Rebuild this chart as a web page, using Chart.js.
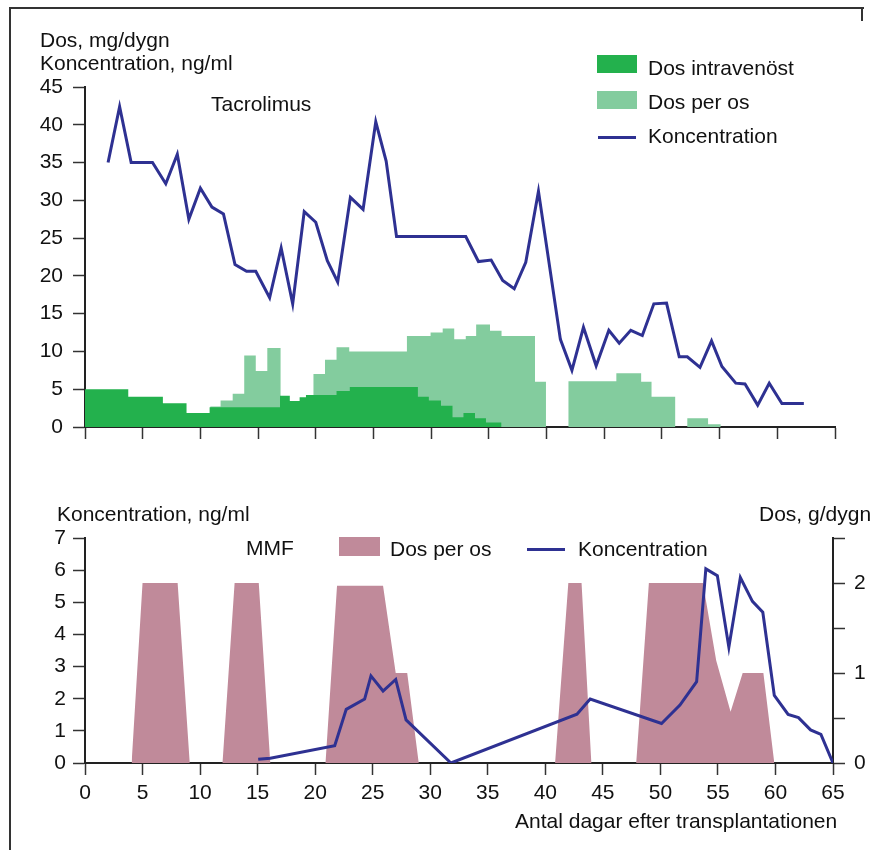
<!DOCTYPE html>
<html>
<head>
<meta charset="utf-8">
<script src="https://cdn.jsdelivr.net/npm/chart.js@4/dist/chart.umd.min.js"></script>
<style>
  body { margin: 0; background: #fff; font-family: "Liberation Sans", Arial, sans-serif; }
  #page { position: relative; width: 874px; height: 850px; overflow: hidden; }
  canvas { position: absolute; left: 0; }
  .t { position: absolute; font-size: 21px; line-height: 21px; white-space: nowrap; color: #111; }
  .sw { position: absolute; }
</style>
</head>
<body>
<div id="page">
  <div style="position:absolute;left:9px;top:7px;width:853px;height:845px;border-left:2px solid #333;border-top:2px solid #333"></div>
  <div style="position:absolute;left:861px;top:7px;width:2px;height:14px;background:#333"></div>

  <canvas id="tacChart" width="874" height="450" style="top:0"></canvas>
  <canvas id="mmfChart" width="874" height="370" style="top:480px"></canvas>

  <!-- top chart texts -->
  <div class="t" style="left:40px;top:29px">Dos, mg/dygn</div>
  <div class="t" style="left:40px;top:52px">Koncentration, ng/ml</div>
  <div class="t" style="left:211px;top:93px">Tacrolimus</div>
  <div class="sw" style="left:597px;top:55px;width:40px;height:18px;background:#23b14d"></div>
  <div class="t" style="left:648px;top:57px">Dos intravenöst</div>
  <div class="sw" style="left:597px;top:91px;width:40px;height:18px;background:#83cc9e"></div>
  <div class="t" style="left:648px;top:91px">Dos per os</div>
  <div class="sw" style="left:598px;top:136px;width:38px;height:3px;background:#2e3192"></div>
  <div class="t" style="left:648px;top:125px">Koncentration</div>

  <!-- bottom chart texts -->
  <div class="t" style="left:57px;top:503px">Koncentration, ng/ml</div>
  <div class="t" style="left:246px;top:537px">MMF</div>
  <div class="sw" style="left:339px;top:537px;width:41px;height:19px;background:#c08a9a"></div>
  <div class="t" style="left:390px;top:538px">Dos per os</div>
  <div class="sw" style="left:527px;top:548px;width:38px;height:3px;background:#2e3192"></div>
  <div class="t" style="left:578px;top:538px">Koncentration</div>
  <div class="t" style="left:759px;top:503px">Dos, g/dygn</div>
  <div class="t" style="left:515px;top:810px">Antal dagar efter transplantationen</div>
</div>

<script>
// tick values
const dayTicks = [0, 5, 10, 15, 20, 25, 30, 35, 40, 45, 50, 55, 60, 65];
const tacTicks = [0, 5, 10, 15, 20, 25, 30, 35, 40, 45];
const mmfConcTicks = [0, 1, 2, 3, 4, 5, 6, 7];
const mmfDoseTicks = [0, 0.5, 1, 1.5, 2, 2.5];
const mmfDoseLabels = [0, 1, 2];

// Tacrolimus concentration (ng/ml)
const tacDays = [2, 3, 4, 5.85, 7, 8, 9, 10, 11, 12, 13, 14, 14.8, 16, 17, 18, 19, 20, 21, 21.9,
  23, 24.1, 25.2, 26.1, 27, 33, 34.1, 35.2, 36.2, 37.2, 38.2, 39.3, 41.2, 42.2, 43.2, 44.3, 45.4, 46.3, 47.3, 48.3,
  49.3, 50.4, 51.5, 52.2, 53.3, 54.3, 55.2, 56.4, 57.2, 58.3, 59.3, 60.4, 62.3];
const tacConc = [35, 42.4, 35, 35, 32.2, 36.1, 27.5, 31.6, 29.1, 28.2, 21.5, 20.6, 20.6, 17.1, 23.7, 16.3, 28.5, 27.1, 22.0, 19.2,
  30.4, 28.8, 40.4, 35.2, 25.2, 25.2, 21.9, 22.1, 19.4, 18.3, 21.8, 31.2, 11.6, 7.5, 13.2, 8.1, 12.8, 11.1, 12.8, 12.1,
  16.3, 16.4, 9.3, 9.3, 7.9, 11.4, 8.0, 5.8, 5.7, 2.9, 5.8, 3.1, 3.1];

// Tacrolimus dose intravenous (mg/dygn), step starts
const ivDays = [0, 3.75, 6.75, 8.8, 10.8, 16.9, 17.75, 18.6, 19.15, 21.8, 22.95, 28.85, 29.8, 30.85, 31.85, 32.8, 33.8, 34.75, 36.1];
const ivDoses = [5.0, 4.0, 3.15, 1.85, 2.6, 4.15, 3.45, 3.95, 4.25, 4.75, 5.3, 4.0, 3.5, 2.8, 1.3, 1.85, 1.15, 0.6, 0];

// Tacrolimus dose per os (mg/dygn), step starts
const oralDays = [10.85, 11.75, 12.8, 13.8, 14.8, 15.8, 16.95, 19.8, 20.8, 21.8, 22.9, 27.9, 29.95, 31.0, 32.0, 33.0, 33.9, 35.1, 36.1,
  39.0, 39.95, 41.9, 46.05, 48.2, 49.1, 51.15, 52.2, 54.0, 55.1];
const oralDoses = [2.7, 3.5, 4.4, 9.45, 7.4, 10.45, 0, 7.0, 8.9, 10.55, 10.0, 12.05, 12.5, 13.05, 11.6, 12.05, 13.55, 12.75, 12.05,
  6.0, 0, 6.05, 7.1, 6.0, 4.0, 0, 1.15, 0.35, 0];

// MMF concentration (ng/ml)
const mmfConcDays = [15.05, 16.1, 21.7, 22.7, 24.3, 24.85, 25.9, 27.0, 27.9, 31.8, 42.75, 43.9, 50.1, 51.7, 53.15, 53.95,
  54.95, 55.95, 56.95, 58.0, 58.9, 59.9, 61.1, 62.0, 63.05, 63.95, 65.0];
const mmfConcValues = [0.12, 0.15, 0.54, 1.67, 1.99, 2.71, 2.24, 2.6, 1.34, 0, 1.52, 1.99, 1.23, 1.8, 2.53, 6.04,
  5.83, 3.6, 5.77, 5.03, 4.69, 2.1, 1.51, 1.41, 1.03, 0.89, 0];

// MMF dose per os (g/dygn)
const mmfDoseDays = [4.05, 5.0, 8.05, 9.1, 11.95, 13.0, 15.1, 16.1, 20.9, 21.9, 25.9, 27.0, 28.0, 29.0,
  40.85, 42.0, 43.15, 44.0, 47.9, 49.0, 53.7, 54.85, 56.1, 57.15, 58.95, 59.9];
const mmfDoseValues = [0, 2.0, 2.0, 0, 0, 2.0, 2.0, 0, 0, 1.97, 1.97, 1.0, 1.0, 0,
  0, 2.0, 2.0, 0, 0, 2.0, 2.0, 1.14, 0.57, 1.0, 1.0, 0];

const navy = "#2e3192";

Chart.defaults.font.family = '"Liberation Sans", Arial, sans-serif';
Chart.defaults.font.size = 21;
Chart.defaults.color = "#111";

function pts(xs, ys) {
  return xs.map((x, i) => ({ x: x, y: ys[i] }));
}

function fixedTicks(values) {
  return (scale) => {
    scale.ticks = values.map((v) => ({ value: v }));
  };
}

function axisStyle() {
  return {
    border: { display: true, color: "#222", width: 2 },
    grid: { drawOnChartArea: false, drawTicks: true, tickLength: 12, tickColor: "#333", tickWidth: 1.5 },
  };
}

const tacConfig = {
  type: "line",
  data: {
    datasets: [
      {
        label: "Koncentration",
        data: pts(tacDays, tacConc),
        borderColor: navy,
        borderWidth: 3,
        borderJoinStyle: "miter",
        pointRadius: 0,
        fill: false,
        order: 0,
      },
      {
        label: "Dos intravenöst",
        data: pts(ivDays, ivDoses),
        stepped: true,
        borderWidth: 0,
        pointRadius: 0,
        backgroundColor: "#23b14d",
        fill: "origin",
        order: 1,
      },
      {
        label: "Dos per os",
        data: pts(oralDays, oralDoses),
        stepped: true,
        borderWidth: 0,
        pointRadius: 0,
        backgroundColor: "#83cc9e",
        fill: "origin",
        order: 2,
      },
    ],
  },
  options: {
    responsive: false,
    animation: false,
    devicePixelRatio: 1,
    layout: { padding: { top: 87, right: 39, bottom: 0, left: 0 } },
    plugins: { legend: { display: false }, tooltip: { enabled: false } },
    scales: {
      x: {
        type: "linear",
        min: 0,
        max: 65,
        ...axisStyle(),
        ticks: { callback: () => "" },
        afterBuildTicks: fixedTicks(dayTicks),
        afterFit: (s) => { s.height = 23; },
      },
      y: {
        min: 0,
        max: 45,
        ...axisStyle(),
        ticks: { padding: 10 },
        afterBuildTicks: fixedTicks(tacTicks),
        afterFit: (s) => { s.width = 85; },
      },
    },
  },
};

const mmfConfig = {
  type: "line",
  data: {
    datasets: [
      {
        label: "Koncentration",
        data: pts(mmfConcDays, mmfConcValues),
        yAxisID: "y",
        borderColor: navy,
        borderWidth: 3,
        borderJoinStyle: "miter",
        pointRadius: 0,
        fill: false,
        order: 0,
      },
      {
        label: "Dos per os",
        data: pts(mmfDoseDays, mmfDoseValues),
        yAxisID: "y2",
        borderWidth: 0,
        pointRadius: 0,
        backgroundColor: "#c08a9a",
        fill: "origin",
        order: 1,
      },
    ],
  },
  options: {
    responsive: false,
    animation: false,
    devicePixelRatio: 1,
    layout: { padding: { top: 58, right: 0, bottom: 0, left: 0 } },
    plugins: { legend: { display: false }, tooltip: { enabled: false } },
    scales: {
      x: {
        type: "linear",
        min: 0,
        max: 65,
        ...axisStyle(),
        ticks: { padding: 6, maxRotation: 0 },
        afterBuildTicks: fixedTicks(dayTicks),
        afterFit: (s) => { s.height = 87; },
      },
      y: {
        position: "left",
        min: 0,
        max: 7,
        ...axisStyle(),
        ticks: { padding: 7 },
        afterBuildTicks: fixedTicks(mmfConcTicks),
        afterFit: (s) => { s.width = 85; },
      },
      y2: {
        position: "right",
        min: 0,
        max: 2.5,
        ...axisStyle(),
        ticks: {
          padding: 9,
          callback: (v) => (mmfDoseLabels.includes(v) ? String(v) : ""),
        },
        afterBuildTicks: fixedTicks(mmfDoseTicks),
        afterFit: (s) => { s.width = 41; },
      },
    },
  },
};

new Chart(document.getElementById("tacChart"), tacConfig);
new Chart(document.getElementById("mmfChart"), mmfConfig);
</script>
</body>
</html>
